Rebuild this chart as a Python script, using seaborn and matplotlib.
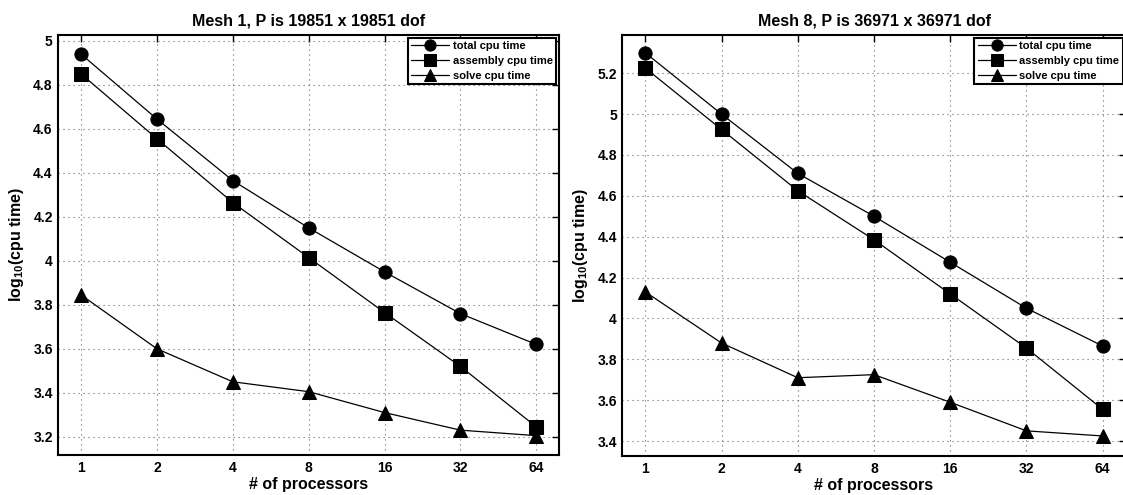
import numpy as np
import pandas as pd
import matplotlib
matplotlib.use("Agg")
import matplotlib.pyplot as plt
import seaborn as sns
from matplotlib.ticker import FuncFormatter

# data
procs = [1, 2, 4, 8, 16, 32, 64]
series_names = ["total cpu time", "assembly cpu time", "solve cpu time"]

mesh1_total = [4.94, 4.645, 4.365, 4.15, 3.95, 3.76, 3.62]
mesh1_assembly = [4.85, 4.555, 4.265, 4.015, 3.765, 3.52, 3.245]
mesh1_solve = [3.845, 3.60, 3.45, 3.405, 3.31, 3.23, 3.205]

mesh8_total = [5.30, 5.00, 4.71, 4.50, 4.275, 4.05, 3.865]
mesh8_assembly = [5.225, 4.925, 4.625, 4.385, 4.12, 3.855, 3.555]
mesh8_solve = [4.13, 3.88, 3.71, 3.725, 3.59, 3.45, 3.425]

titles = ["Mesh 1, P is 19851 x 19851 dof", "Mesh 8, P is 36971 x 36971 dof"]
mesh1_yticks = [3.2, 3.4, 3.6, 3.8, 4.0, 4.2, 4.4, 4.6, 4.8, 5.0]
mesh8_yticks = [3.4, 3.6, 3.8, 4.0, 4.2, 4.4, 4.6, 4.8, 5.0, 5.2]


def make_df(total, assembly, solve):
    rows = []
    for name, vals in zip(series_names, [total, assembly, solve]):
        for p, v in zip(procs, vals):
            rows.append({"pos": np.log2(p), "time": v, "series": name})
    return pd.DataFrame(rows)


sns.set_style("white")
plt.rcParams['font.family'] = ['Liberation Sans', 'DejaVu Sans']
plt.rcParams['font.weight'] = 'bold'
plt.rcParams['mathtext.default'] = 'regular'
for key in ['text.color', 'axes.labelcolor', 'xtick.color', 'ytick.color']:
    plt.rcParams[key] = 'black'

fig = plt.figure(figsize=(11.23, 4.95), dpi=100)
W, H = 1123, 495
ax1 = fig.add_axes([58.3 / W, 1 - 455 / H, (559 - 58.3) / W, (455 - 35) / H])
ax2 = fig.add_axes([622.4 / W, 1 - 456 / H, (1125.6 - 622.4) / W, (456 - 35) / H])

panels = [
    (ax1, make_df(mesh1_total, mesh1_assembly, mesh1_solve), mesh1_yticks, (3.117, 5.027), titles[0]),
    (ax2, make_df(mesh8_total, mesh8_assembly, mesh8_solve), mesh8_yticks, (3.327, 5.387), titles[1]),
]

for ax, df, yt, ylim, title in panels:
    sns.lineplot(data=df, x="pos", y="time", style="series", markers=["o", "s", "^"],
                 dashes=False, color="black", linewidth=0.9, markersize=9.5,
                 markeredgecolor="black", ax=ax, zorder=3)
    ax.set_xlim(-0.3, 6.3)
    ax.set_ylim(*ylim)
    ax.set_xticks(np.log2(procs))
    ax.set_xticklabels([str(p) for p in procs])
    ax.set_yticks(yt)
    ax.yaxis.set_major_formatter(FuncFormatter(lambda v, _: f"{v:g}"))
    ax.tick_params(direction="in", top=True, right=True, length=5, width=1,
                   labelsize=10, pad=4, colors="black")
    for lab in ax.get_xticklabels() + ax.get_yticklabels():
        lab.set_fontweight("bold")
    ax.grid(True, linestyle=(0, (1, 3.5)), color="#666666", linewidth=0.8)
    ax.set_axisbelow(True)
    for sp in ax.spines.values():
        sp.set_color("black")
        sp.set_linewidth(1.5)
    ax.set_title(title, fontsize=11.5, fontweight="bold", pad=7)
    ax.set_xlabel("# of processors", fontsize=11.5, fontweight="bold", labelpad=2)
    ax.set_ylabel("log$_{10}$(cpu time)", fontsize=11.5, fontweight="bold", labelpad=5)
    handles, labels = ax.get_legend_handles_labels()
    leg = ax.legend(handles, labels, loc="upper right", fontsize=8, frameon=True,
                    fancybox=False, edgecolor="black", framealpha=1,
                    borderpad=0.3, labelspacing=0.45, handlelength=3.4,
                    handletextpad=0.35, borderaxespad=0.25, markerscale=0.85)
    leg.get_frame().set_linewidth(1.5)
    for t in leg.get_texts():
        t.set_fontweight("bold")

fig.savefig("out.png", dpi=100)
